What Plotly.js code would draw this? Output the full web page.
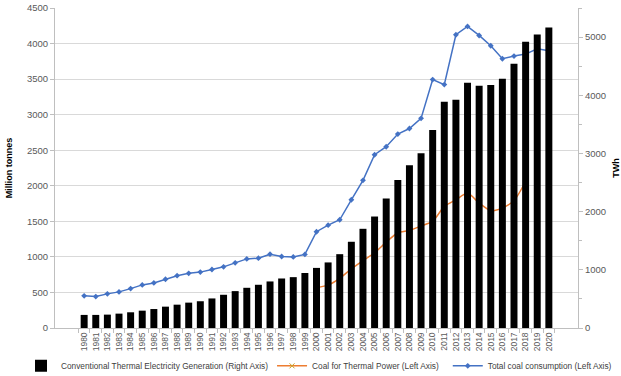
<!DOCTYPE html>
<html>
<head>
<meta charset="utf-8">
<script src="https://cdn.plot.ly/plotly-3.0.1.min.js"></script>
<style>html,body{margin:0;padding:0;background:#fff;}#chart{width:621px;height:376px;}</style>
</head>
<body>
<div id="chart"></div>
<script>
const years = ["1980","1981","1982","1983","1984","1985","1986","1987","1988","1989","1990","1991","1992","1993","1994","1995","1996","1997","1998","1999","2000","2001","2002","2003","2004","2005","2006","2007","2008","2009","2010","2011","2012","2013","2014","2015","2016","2017","2018","2019","2020"];
const thermalGenTWh = [225,225,230,247,270,298,326,367,401,436,460,508,571,634,691,743,800,851,874,945,1033,1127,1269,1482,1705,1916,2225,2545,2796,3005,3405,3890,3925,4216,4165,4177,4285,4542,4919,5046,5166];
const coalPowerYears = ["2000","2001","2002","2003","2004","2005","2006","2007","2008","2009","2010","2011","2012","2013","2014","2015","2016","2017","2018"];
const coalPowerMt = [567,603,697,833,946,1058,1207,1339,1371,1435,1499,1710,1803,1897,1757,1649,1686,1789,2060];
const totalCoalMt = [452,442,480,508,554,606,634,685,736,769,786,822,860,916,972,982,1038,1005,1000,1035,1354,1446,1522,1803,2076,2437,2549,2727,2805,2948,3493,3423,4124,4241,4114,3969,3786,3824,3852,3926,3898];

const font = "Liberation Sans, Arial, sans-serif";
const data = [
  {type:"bar", x:years, y:thermalGenTWh, yaxis:"y2", name:"Conventional Thermal Electricity Generation (Right Axis)",
   marker:{color:"#000000"}, width:0.6, legend:"legend"},
  {type:"scatter", mode:"lines+markers", x:coalPowerYears, y:coalPowerMt, name:"Coal for Thermal Power (Left Axis)",
   line:{color:"#ED7D31", width:1.5, shape:"spline", smoothing:0.6}, marker:{symbol:"x-thin", size:5, color:"#C9A227", line:{color:"#C9A227", width:1}}, legend:"legend2"},
  {type:"scatter", mode:"lines+markers", x:years, y:totalCoalMt, name:"Total coal consumption (Left Axis)",
   line:{color:"#4472C4", width:1.5}, marker:{symbol:"diamond", size:4.5, color:"#4472C4"}, legend:"legend3"}
];
const legBase = {orientation:"h", yref:"container", y:0.027, yanchor:"middle", xanchor:"left", font:{size:8.3, color:"#404040"}, itemwidth:30, bgcolor:"rgba(0,0,0,0)"};
const layout = {
  width:621, height:376,
  margin:{l:55, r:43, t:8, b:48},
  paper_bgcolor:"#fff", plot_bgcolor:"#fff",
  font:{family:font, size:9, color:"#595959"},
  showlegend:true,
  legend:Object.assign({}, legBase, {x:-0.065}),
  legend2:Object.assign({}, legBase, {x:0.415}),
  legend3:Object.assign({}, legBase, {x:0.751}),
  xaxis:{type:"category", tickangle:-90, tickfont:{size:8.5, color:"#595959"}, showline:true, linecolor:"#BFBFBF", linewidth:1,
         ticks:"outside", tickson:"boundaries", ticklen:4, tickcolor:"#BFBFBF", showgrid:false, automargin:false},
  yaxis:{range:[0,4500], dtick:500, tickfont:{size:9.5}, showgrid:true, gridcolor:"#D9D9D9", gridwidth:1,
         showline:true, linecolor:"#BFBFBF", ticks:"outside", ticklen:4, tickcolor:"#BFBFBF", zeroline:false,
         title:{text:"Million tonnes", font:{size:9, color:"#000", weight:"bold"}, standoff:12}, automargin:false},
  yaxis2:{range:[0,5500], dtick:1000, overlaying:"y", side:"right", tickfont:{size:9.5}, showgrid:false,
         showline:true, linecolor:"#BFBFBF", ticks:"outside", ticklen:4, tickcolor:"#BFBFBF", zeroline:false,
         minor:{dtick:500, ticks:"outside", ticklen:3, tickcolor:"#BFBFBF"},
         title:{text:"TWh", font:{size:9, color:"#000", weight:"bold"}, standoff:10}, automargin:false}
};
Plotly.newPlot("chart", data, layout, {displayModeBar:false, staticPlot:true});
</script>
</body>
</html>
